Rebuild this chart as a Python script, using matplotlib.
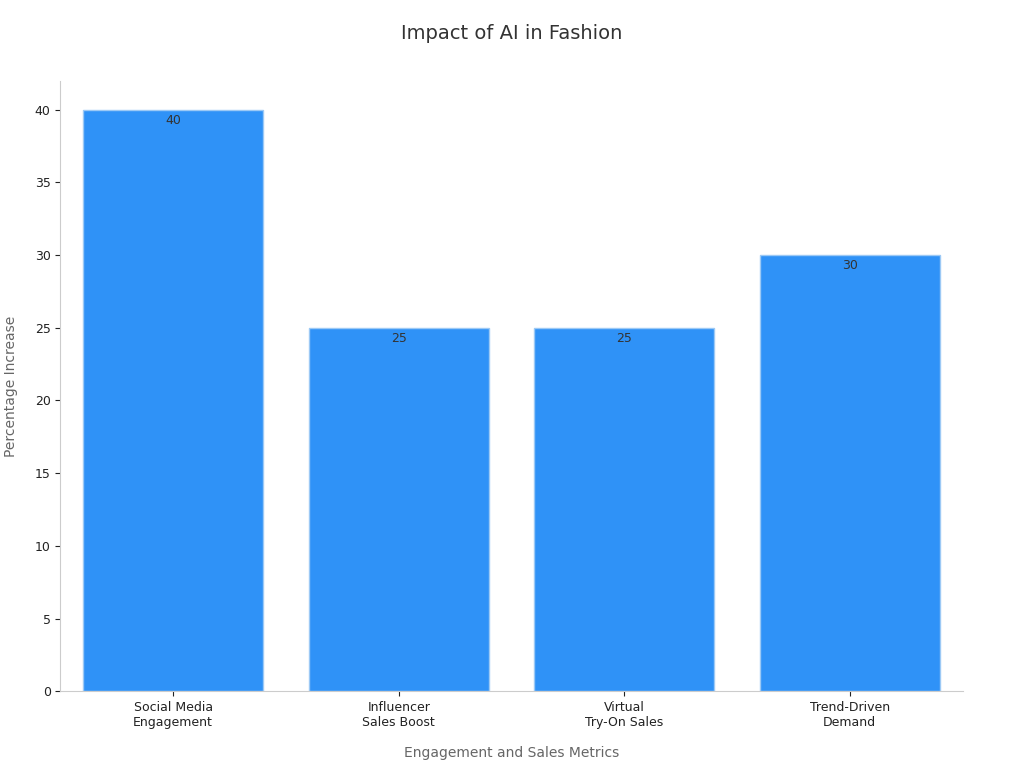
import matplotlib
matplotlib.use("Agg")
import matplotlib.pyplot as plt

categories = ["Social Media\nEngagement", "Influencer\nSales Boost", "Virtual\nTry-On Sales", "Trend-Driven\nDemand"]
values = [40, 25, 25, 30]

fig, ax = plt.subplots(figsize=(10.24, 7.68), dpi=100)
fig.subplots_adjust(left=0.059, right=0.94, top=0.895, bottom=0.1)

bars = ax.bar(categories, values, width=0.8, color="#2f92f7", edgecolor="#9cc9f5", linewidth=1)
for b, v in zip(bars, values):
    ax.text(b.get_x() + b.get_width() / 2, v - 0.3, str(v), ha="center", va="top",
            fontsize=9, color="#333333")

ax.set_xlim(-0.5, 3.5)
ax.set_ylim(0, 42)
ax.set_yticks(range(0, 41, 5))
ax.set_title("Impact of AI in Fashion", fontsize=14, color="#333333", pad=30)
ax.set_xlabel("Engagement and Sales Metrics", fontsize=10, color="#666666", labelpad=12)
ax.set_ylabel("Percentage Increase", fontsize=10, color="#666666", labelpad=12)
ax.tick_params(labelsize=9, colors="#222222")
for s in ["top", "right"]:
    ax.spines[s].set_visible(False)
for s in ["left", "bottom"]:
    ax.spines[s].set_color("#cccccc")

fig.savefig("out.png")
